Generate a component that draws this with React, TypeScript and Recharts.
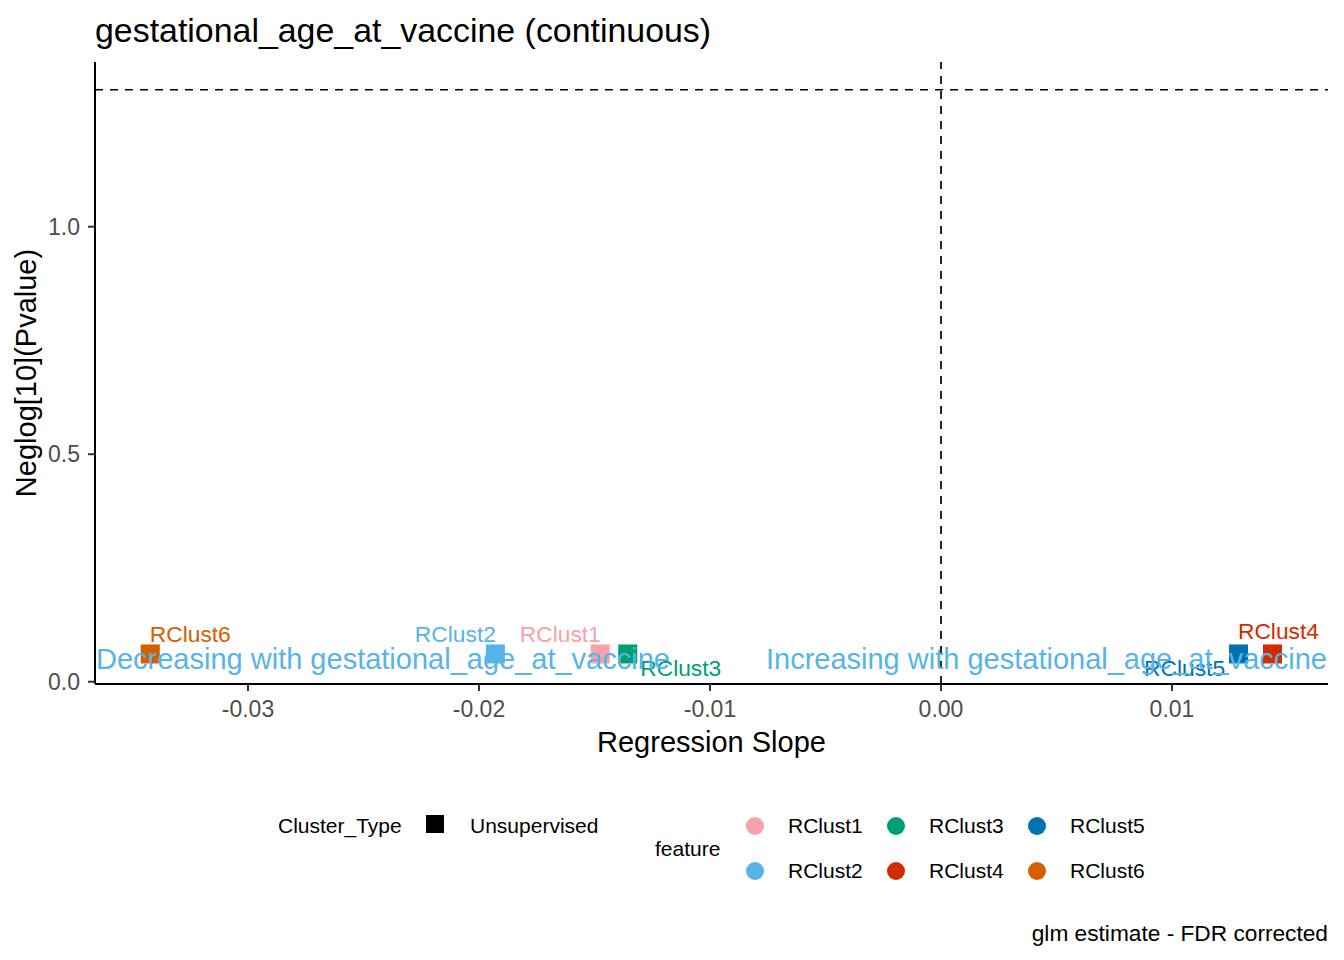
import React from 'react';
import {
  ScatterChart,
  Scatter,
  XAxis,
  YAxis,
  ReferenceLine,
} from 'recharts';

// ---------- data ----------
const features = ['RClust1', 'RClust2', 'RClust3', 'RClust4', 'RClust5', 'RClust6'];
const slopes = [-0.01475, -0.01929, -0.01356, 0.01435, 0.01288, -0.03423];
const negLogP = [0.061, 0.061, 0.061, 0.061, 0.061, 0.061];
const clusterTypes = ['Unsupervised', 'Unsupervised', 'Unsupervised', 'Unsupervised', 'Unsupervised', 'Unsupervised'];
const featureColors = ['#F7A1A9', '#56B4E9', '#009E73', '#D42A00', '#0072B2', '#D55E00'];
const xTicks = [-0.03, -0.02, -0.01, 0.0, 0.01];
const yTicks = [0.0, 0.5, 1.0];
const significanceLine = 1.30103; // -log10(0.05)
const annotationY = 0.05;
const decreasingText = 'Decreasing with gestational_age_at_vaccine';
const increasingText = 'Increasing with gestational_age_at_vaccine';

// ---------- layout / style ----------
const W = 1344;
const H = 960;
const X_DOMAIN: [number, number] = [-0.036623, 0.016753];
const Y_DOMAIN: [number, number] = [-0.005, 1.362];
const FONT = '"Liberation Sans", Arial, Helvetica, sans-serif';
// repel-style label offsets (px) from each point centre
const labelOffsets: Array<[number, number]> = [
  [-40, -20],
  [-40, -20],
  [53, 14],
  [6, -23],
  [-54, 14],
  [40, -20],
];

const points = features.map((f, i) => ({
  feature: f,
  x: slopes[i],
  y: negLogP[i],
  type: clusterTypes[i],
  color: featureColors[i],
  dx: labelOffsets[i][0],
  dy: labelOffsets[i][1],
}));

const SQ = 19;

const SquareShape = (props: any) => {
  const { cx, cy, payload } = props;
  if (cx == null || cy == null) return null;
  return <rect x={cx - SQ / 2} y={cy - SQ / 2} width={SQ} height={SQ} fill={payload.color} />;
};

const LabelShape = (props: any) => {
  const { cx, cy, payload } = props;
  if (cx == null || cy == null) return null;
  return (
    <text
      x={cx + payload.dx}
      y={cy + payload.dy}
      dy="0.36em"
      textAnchor="middle"
      fill={payload.color}
      fontSize={22.8}
      fontFamily={FONT}
    >
      {payload.feature}
    </text>
  );
};

const AnnotationShape = (props: any) => {
  const { cx, cy, payload } = props;
  if (cx == null || cy == null) return null;
  return (
    <text
      x={cx + (payload.anchor === 'start' ? 1 : -1)}
      y={cy}
      dy="0.36em"
      textAnchor={payload.anchor}
      fill="#56B4E9"
      fontSize={29}
      fontFamily={FONT}
    >
      {payload.text}
    </text>
  );
};

const annotations = [
  { x: X_DOMAIN[0], y: annotationY, text: decreasingText, anchor: 'start' },
  { x: X_DOMAIN[1], y: annotationY, text: increasingText, anchor: 'end' },
];

const XTitle = (props: any) => {
  const vb = props.viewBox || {};
  return (
    <text
      x={vb.x + vb.width / 2}
      y={742}
      dy="0.36em"
      textAnchor="middle"
      fontSize={29}
      fontFamily={FONT}
      fill="#000"
    >
      Regression Slope
    </text>
  );
};

const YTitle = (props: any) => {
  const vb = props.viewBox || {};
  const cy = vb.y + vb.height / 2;
  const cx = 36;
  return (
    <text
      x={cx}
      y={cy}
      textAnchor="middle"
      transform={`rotate(-90, ${cx}, ${cy})`}
      fontSize={29}
      fontFamily={FONT}
      fill="#000"
    >
      Neglog[10](Pvalue)
    </text>
  );
};

const legendFont = { fontFamily: FONT, fontSize: 21, color: '#000', position: 'absolute' as const, lineHeight: '24px', whiteSpace: 'nowrap' as const };

const Legend = () => {
  const colX = [755, 896, 1037];
  const rowY = [826, 871];
  return (
    <>
      <div style={{ ...legendFont, left: 278, top: 826 - 12 }}>Cluster_Type</div>
      <div style={{ position: 'absolute', left: 435 - 9, top: 824 - 9, width: 18, height: 18, background: '#000' }} />
      <div style={{ ...legendFont, left: 470, top: 826 - 12 }}>{clusterTypes[0]}</div>
      <div style={{ ...legendFont, left: 655, top: 849 - 12 }}>feature</div>
      {features.map((f, i) => {
        const col = Math.floor(i / 2);
        const row = i % 2;
        return (
          <React.Fragment key={f}>
            <div
              style={{
                position: 'absolute',
                left: colX[col] - 9,
                top: rowY[row] - 9,
                width: 18,
                height: 18,
                borderRadius: 9,
                background: featureColors[i],
              }}
            />
            <div style={{ ...legendFont, left: colX[col] + 33, top: rowY[row] - 12 }}>{f}</div>
          </React.Fragment>
        );
      })}
    </>
  );
};

export default function App() {
  return (
    <div style={{ position: 'absolute', left: 0, top: 0, width: W, height: H, background: '#fff', fontFamily: FONT }}>
      <div
        style={{
          position: 'absolute',
          left: 95,
          top: 30 - 19,
          fontSize: 33.9,
          lineHeight: '38px',
          fontFamily: FONT,
          color: '#000',
          whiteSpace: 'nowrap',
        }}
      >
        gestational_age_at_vaccine (continuous)
      </div>
      <div style={{ position: 'absolute', left: 0, top: 0 }}>
        <ScatterChart width={W} height={H} margin={{ top: 62, right: 16, left: 0, bottom: 216 }}>
          <XAxis
            type="number"
            dataKey="x"
            domain={X_DOMAIN}
            allowDataOverflow
            ticks={xTicks}
            tickFormatter={(v: number) => v.toFixed(2)}
            axisLine={{ stroke: '#000', strokeWidth: 2 }}
            tickLine={{ stroke: '#333', strokeWidth: 2 }}
            tickSize={7}
            tickMargin={10}
            tick={{ fill: '#4D4D4D', fontSize: 23, fontFamily: FONT }}
            height={60}
            label={<XTitle />}
          />
          <YAxis
            type="number"
            dataKey="y"
            domain={Y_DOMAIN}
            allowDataOverflow
            ticks={yTicks}
            tickFormatter={(v: number) => v.toFixed(1)}
            axisLine={{ stroke: '#000', strokeWidth: 2 }}
            tickLine={{ stroke: '#333', strokeWidth: 2 }}
            tickSize={7}
            tickMargin={8}
            tick={{ fill: '#4D4D4D', fontSize: 23, fontFamily: FONT }}
            width={95}
            label={<YTitle />}
          />
          <ReferenceLine y={significanceLine} stroke="#000" strokeWidth={1.7} strokeDasharray="8 7" />
          <ReferenceLine x={0} stroke="#000" strokeWidth={1.7} strokeDasharray="8 7" />
          {points.map((p) => (
            <Scatter
              key={p.feature}
              name={p.feature}
              data={[p]}
              shape={SquareShape}
              isAnimationActive={false}
            />
          ))}
          <Scatter data={points} shape={LabelShape} isAnimationActive={false} legendType="none" />
          <Scatter data={annotations} shape={AnnotationShape} isAnimationActive={false} legendType="none" />
        </ScatterChart>
      </div>
      <Legend />
      <div
        style={{
          position: 'absolute',
          right: W - 1328,
          top: 933 - 13,
          fontSize: 22.7,
          lineHeight: '26px',
          fontFamily: FONT,
          color: '#000',
          whiteSpace: 'nowrap',
        }}
      >
        glm estimate - FDR corrected
      </div>
    </div>
  );
}
